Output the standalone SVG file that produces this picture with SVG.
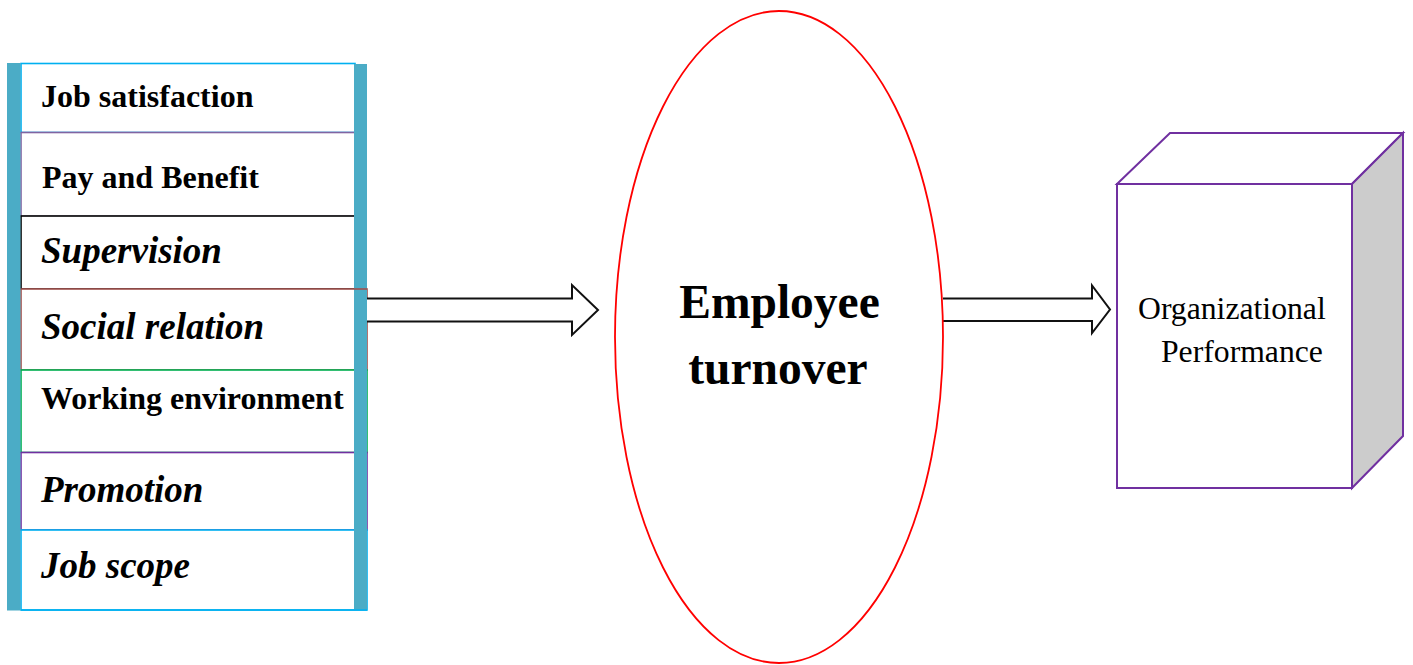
<svg xmlns="http://www.w3.org/2000/svg" width="1413" height="665" viewBox="0 0 1413 665">
<style>
.b{font-family:"Liberation Serif","Times New Roman",serif;font-weight:bold;font-size:32px;fill:#000}
.bi{font-family:"Liberation Serif","Times New Roman",serif;font-weight:bold;font-style:italic;font-size:37px;fill:#000}
.big{font-family:"Liberation Serif","Times New Roman",serif;font-weight:bold;font-size:47.5px;fill:#000}
.reg{font-family:"Liberation Serif","Times New Roman",serif;font-size:31.7px;fill:#000}
.row{fill:#fff;stroke-width:1.6}
.bar{fill:#4bacc6}
.arr{fill:#fff;stroke:#111;stroke-width:2;stroke-linejoin:miter}
</style>
<rect width="1413" height="665" fill="#fff"/>
<g id="factors">
<g id="job-satisfaction"><rect class="row" x="21" y="63.5" width="334" height="69" stroke="#00b0f0"/><text class="b" x="41" y="107">Job satisfaction</text></g>
<g id="pay-benefit"><rect class="row" x="21" y="132.5" width="334" height="84" stroke="#8064a2"/><text class="b" x="42" y="188">Pay and Benefit</text></g>
<g id="supervision"><rect class="row" x="21" y="216" width="334" height="73" stroke="#000"/><text class="bi" x="41" y="263">Supervision</text></g>
<g id="social-relation"><rect class="row" x="21" y="289" width="346" height="81" stroke="#a0504d"/><text class="bi" x="41" y="339">Social relation</text></g>
<g id="working-environment"><rect class="row" x="21" y="370" width="346" height="82.5" stroke="#00b050"/><text class="b" x="41" y="409">Working environment</text></g>
<g id="promotion"><rect class="row" x="21" y="452.5" width="346" height="77.5" stroke="#7030a0"/><text class="bi" x="41" y="502">Promotion</text></g>
<g id="job-scope"><rect class="row" x="21" y="530" width="346" height="80" stroke="#00b0f0"/><text class="bi" x="41" y="578">Job scope</text></g>
<rect class="bar" x="7" y="63" width="13.5" height="547.5"/>
<rect class="bar" x="354" y="64" width="13" height="546"/>
<line x1="354" y1="289" x2="367" y2="289" stroke="#a0504d" stroke-width="1.6"/>
<line x1="21" y1="610" x2="367" y2="610" stroke="#00b0f0" stroke-width="1.6"/>
</g>
<g id="connectors">
<path class="arr" d="M367,298.5 H572 V285 L598,310 L572,335 V321.5 H367"/>
<path class="arr" d="M943,298.5 H1092 V285.5 L1110,309.5 L1092,333 V321 H943"/>
</g>
<g id="employee-turnover">
<ellipse cx="779" cy="337" rx="164" ry="326" fill="none" stroke="#ff0000" stroke-width="1.8"/>
<text class="big" x="779.5" y="318" text-anchor="middle">Employee</text>
<text class="big" x="778" y="384" text-anchor="middle">turnover</text>
</g>
<g id="organizational-performance">
<polygon points="1117,184 1170,133 1403,133 1352,184" fill="#fff" stroke="#7030a0" stroke-width="2"/>
<polygon points="1352,184 1403,133 1403,436 1352,488" fill="#cccccc" stroke="#7030a0" stroke-width="2"/>
<rect x="1117" y="184" width="235" height="304" fill="#fff" stroke="#7030a0" stroke-width="2"/>
<text class="reg" x="1138" y="319">Organizational</text>
<text class="reg" x="1161" y="362">Performance</text>
</g>
</svg>
